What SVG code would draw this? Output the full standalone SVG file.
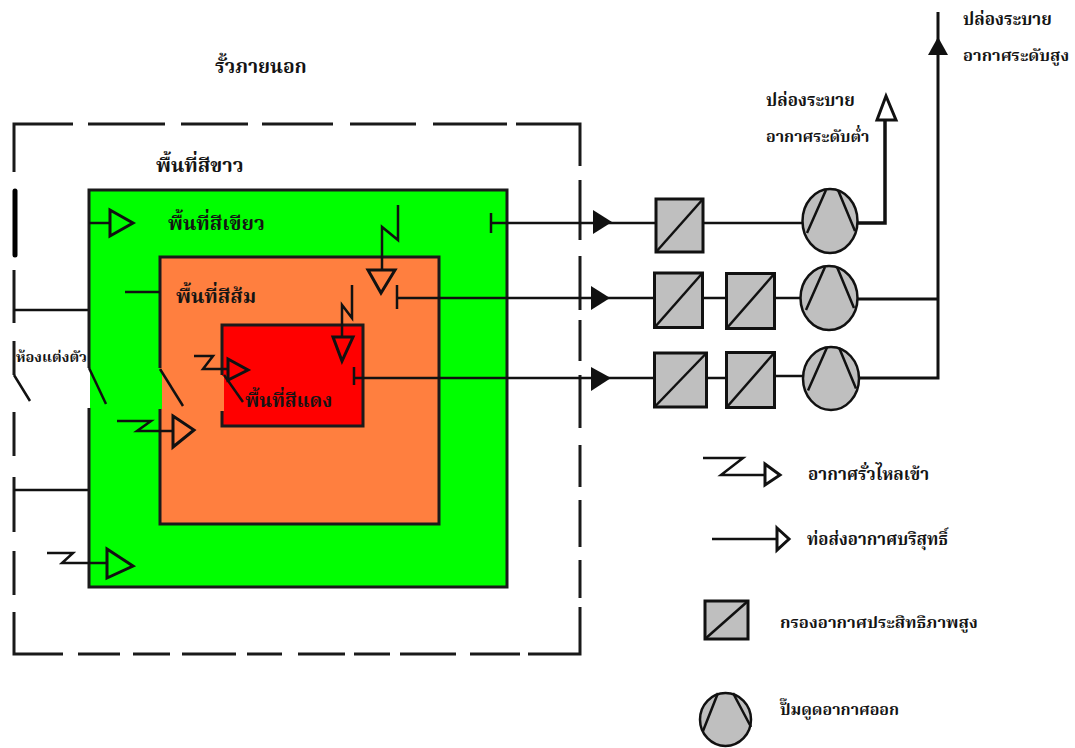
<svg xmlns="http://www.w3.org/2000/svg" width="1075" height="748" viewBox="0 0 1075 748">
<style>
text{font-family:"Liberation Serif","Noto Serif Thai","Noto Sans Thai","Noto Sans","DejaVu Sans",serif;font-weight:700;font-size:20px;fill:#141414}
text.s{font-size:17px}
.w{fill:none;stroke:#1a1a1a;stroke-width:3}
.t{fill:none;stroke:#111;stroke-width:3;stroke-linejoin:miter}
.l{fill:none;stroke:#111;stroke-width:2.5}
.k{fill:#111;stroke:none}
.g{fill:#bfbfbf;stroke:#111;stroke-width:3}
.p{fill:#bfbfbf;stroke:#111;stroke-width:2.5}
</style>
<defs>
<g id="pumpinner"><path class="l" d="M-23 12L-4 -31M25 10L8 -31"/></g>
</defs>
<rect width="1075" height="748" fill="#fff"/>
<g id="outer-fence">
<path class="w" d="M14 172V124H73M88 124H165M181 124H248M262 124H333M350 124H416M433 124H507M516 124H580V166M580 180V240M580 256V310M580 320V361M580 375V428M580 445V487M580 500V547M580 560V598M580 607V654H528M520 654H470M456 654H400M390 654H354M345 654H298M282 654H247M236 654H182M170 654H133M120 654H78M63 654H14V612M14 595V551M14 532V477M14 456V412M14 375V341M14 323V270"/>
<path d="M15 191V255" fill="none" stroke="#000" stroke-width="5" stroke-linecap="round"/>
<path class="l" d="M14 310H89M14 490H89M14 375L30 401"/>
</g>
<g id="zone-green">
<rect x="89" y="190" width="418" height="397" fill="#00ff00"/>
<rect x="80" y="369" width="10" height="40" fill="#fff"/>
<path class="w" d="M89 368V190H507V587H89V408"/>
<path class="l" d="M89 368L106 404"/>
</g>
<g id="zone-orange">
<rect x="160" y="257" width="279" height="267" fill="#ff7f3f"/>
<rect x="155" y="369" width="7" height="40" fill="#00ff00"/>
<path class="w" d="M160 368V257H439V524H160V409"/>
<path class="l" d="M160 369L183 406"/>
<path class="l" d="M125 292H160"/>
</g>
<g id="zone-red">
<rect x="222" y="325" width="141" height="101" fill="#ff0000"/>
<rect x="218" y="376" width="6" height="35" fill="#ff7f3f"/>
<path class="w" d="M222 375V325H363V426H222V411"/>
<path class="l" d="M224 375L243 402"/>
</g>
<g id="connectors">
<path class="l" d="M89 223H110"/>
<path class="t" d="M110 210L133 223L110 236Z"/>
<path class="l" d="M47 553H73L62 563H107"/>
<path class="t" d="M107 549L133 566L107 578Z"/>
<path class="l" d="M117 421H151L137 431H173"/>
<path class="t" d="M173 416L194 430L173 447Z"/>
<path class="l" d="M194 356H213L203 369H228"/>
<path class="t" d="M228 359L248 370L228 380Z"/>
<path class="l" d="M398 205V240L382 227V270"/>
<path class="t" d="M368 270H395L381 293Z"/>
<path class="l" d="M352 285V318L342 305V337"/>
<path class="t" d="M333 337H353L342 361Z"/>
<path class="l" d="M491 213V233M491 223H655"/>
<path class="k" d="M593 210L612 222L593 234Z"/>
<path class="l" d="M397 285V309M397 298H654"/>
<path class="k" d="M591 286L610 298L591 310Z"/>
<path class="l" d="M354 367V385M354 378H654" stroke-width="3"/>
<path class="k" d="M591 367L611 378L591 391Z"/>
<path class="l" d="M704 223H802M703 298H726M775 298H800M707 378H726M775 376H802"/>
<path d="M858 223H885V120" fill="none" stroke="#111" stroke-width="3.5"/>
<path d="M877 120H896L886 96Z" fill="#fff" stroke="#111" stroke-width="3"/>
<path d="M858 299H938M938 12V378H859" fill="none" stroke="#111" stroke-width="3"/>
<path class="k" d="M928 55L938 37L948 55Z"/>
</g>
<g id="filter-1"><rect class="g" x="656" y="199" width="47" height="53"/><path class="l" d="M656 252L703 199"/></g>
<g id="filter-2"><rect class="g" x="654.500" y="273" width="48" height="54.500"/><path class="l" d="M654.500 327.500L702.500 273"/></g>
<g id="filter-3"><rect class="g" x="726.500" y="273.500" width="48" height="55"/><path class="l" d="M726.500 328.500L774.500 273.500"/></g>
<g id="filter-4"><rect class="g" x="654.500" y="353" width="52" height="54"/><path class="l" d="M654.500 407L706.500 353"/></g>
<g id="filter-5"><rect class="g" x="726.500" y="352.500" width="48" height="55"/><path class="l" d="M726.500 407.500L774.500 352.500"/></g>
<g id="pump-1"><ellipse class="p" cx="830" cy="221" rx="27.500" ry="32"/><use href="#pumpinner" x="830" y="221"/></g>
<g id="pump-2"><ellipse class="p" cx="829" cy="298" rx="28.500" ry="32"/><use href="#pumpinner" x="829" y="298"/></g>
<g id="pump-3"><ellipse class="p" cx="831" cy="378.500" rx="28" ry="31.500"/><use href="#pumpinner" x="831" y="378.500"/></g>
<g id="legend">
<path class="l" d="M703 458H743L721 475H765"/>
<path class="t" d="M765 464L780 475L765 485Z"/>
<path class="l" d="M712 539H777"/>
<path class="t" d="M777 528L789 539L777 550Z"/>
<rect class="g" x="705" y="601" width="43" height="38"/>
<path class="l" d="M705 639L748 601"/>
<ellipse class="p" cx="725.500" cy="719.500" rx="25.500" ry="26.500"/>
<path class="l" d="M703 731L718 693M751 727L733 693"/>
</g>
<g id="labels">
<text x="215" y="73" style="font-size:19.300px">รั้วภายนอก</text>
<text x="156" y="172">พื้นที่สีขาว</text>
<text x="168" y="230">พื้นที่สีเขียว</text>
<text x="176" y="303">พื้นที่สีส้ม</text>
<text x="245" y="407" style="font-size:19px">พื้นที่สีแดง</text>
<text x="16" y="362" style="font-size:14.600px">ห้องแต่งตัว</text>
<text class="s" x="963" y="25">ปล่องระบาย</text>
<text class="s" x="963" y="61" style="font-size:16.500px">อากาศระดับสูง</text>
<text class="s" x="766" y="106">ปล่องระบาย</text>
<text class="s" x="766" y="142" style="font-size:16px">อากาศระดับต่ำ</text>
<text class="s" x="808" y="480">อากาศรั่วไหลเข้า</text>
<text class="s" x="807" y="545" style="font-size:16.800px">ท่อส่งอากาศบริสุทธิ์</text>
<text class="s" x="780" y="628" style="font-size:16.700px">กรองอากาศประสิทธิภาพสูง</text>
<text class="s" x="780" y="715" style="font-size:16px">ปั๊มดูดอากาศออก</text>
</g>
</svg>
